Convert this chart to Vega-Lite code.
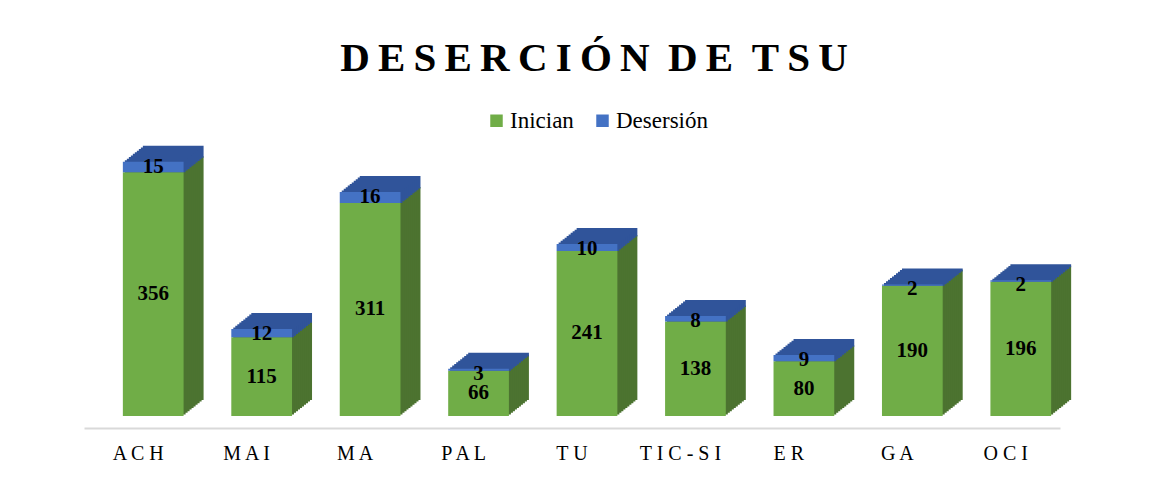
{
  "$schema": "https://vega.github.io/schema/vega-lite/v6.json",
  "autosize": "none",
  "width": 976,
  "height": 274,
  "padding": {"left": 84, "top": 142, "right": 111, "bottom": 69},
  "background": "white",
  "config": {
    "view": {"stroke": null},
    "legend": {
      "labelFont": "Liberation Serif",
      "labelFontSize": 23,
      "labelColor": "#000000",
      "symbolType": "square",
      "symbolSize": 156,
      "symbolStrokeWidth": 0,
      "symbolOpacity": 1,
      "padding": 0
    }
  },
  "title": {
    "text": "D\u2009E\u2009S\u2009E\u2009R\u2009C\u2009I\u2009Ó\u2009N \u2009D\u2009E \u2009T\u2009S\u2009U",
    "font": "Liberation Serif",
    "fontSize": 41,
    "fontWeight": "bold",
    "color": "#000000",
    "anchor": "middle",
    "frame": "group",
    "baseline": "alphabetic",
    "offset": 39,
    "dy": 42,
    "dx": 22
  },
  "data": {
    "values": [
      {"cat": "ACH", "inician": 356, "desercion": 15, "total": 371},
      {"cat": "MAI", "inician": 115, "desercion": 12, "total": 127},
      {"cat": "MA", "inician": 311, "desercion": 16, "total": 327},
      {"cat": "PAL", "inician": 66, "desercion": 3, "total": 69},
      {"cat": "TU", "inician": 241, "desercion": 10, "total": 251},
      {"cat": "TIC-SI", "inician": 138, "desercion": 8, "total": 146},
      {"cat": "ER", "inician": 80, "desercion": 9, "total": 89},
      {"cat": "GA", "inician": 190, "desercion": 2, "total": 192},
      {"cat": "OCI", "inician": 196, "desercion": 2, "total": 198}
    ]
  },
  "encoding": {
    "x": {
      "field": "cat",
      "type": "nominal",
      "sort": null,
      "scale": {"paddingInner": 0.44, "paddingOuter": 0.22},
      "axis": {
        "title": null,
        "labelAngle": 0,
        "ticks": false,
        "domainColor": "#d9d9d9",
        "domainWidth": 2,
        "offset": 12,
        "labelFont": "Liberation Serif",
        "labelFontSize": 20,
        "labelColor": "#000000",
        "labelPadding": 15,
        "labelExpr": "join(split(datum.label, ''), ' ')"
      }
    }
  },
  "layer": [
    {"mark": {"type": "bar", "color": "#4c7330", "xOffset": 35, "yOffset": -16, "y2Offset": -16},
     "encoding": {"y": {"field": "inician", "type": "quantitative", "scale": {"domain": [0, 400], "nice": false}, "axis": null}, "y2": {"datum": 0}}},
    {"mark": {"type": "bar", "color": "#30549a", "xOffset": 35, "yOffset": -16, "y2Offset": -14.4},
     "encoding": {"y": {"field": "total", "type": "quantitative", "scale": {"domain": [0, 400], "nice": false}, "axis": null}, "y2": {"field": "inician"}}},
    {"mark": {"type": "bar", "color": "#4c7330", "xOffset": 33, "yOffset": -14.4, "y2Offset": -14.4},
     "encoding": {"y": {"field": "inician", "type": "quantitative", "scale": {"domain": [0, 400], "nice": false}, "axis": null}, "y2": {"datum": 0}}},
    {"mark": {"type": "bar", "color": "#30549a", "xOffset": 33, "yOffset": -14.4, "y2Offset": -12.8},
     "encoding": {"y": {"field": "total", "type": "quantitative", "scale": {"domain": [0, 400], "nice": false}, "axis": null}, "y2": {"field": "inician"}}},
    {"mark": {"type": "bar", "color": "#4c7330", "xOffset": 31, "yOffset": -12.8, "y2Offset": -12.8},
     "encoding": {"y": {"field": "inician", "type": "quantitative", "scale": {"domain": [0, 400], "nice": false}, "axis": null}, "y2": {"datum": 0}}},
    {"mark": {"type": "bar", "color": "#30549a", "xOffset": 31, "yOffset": -12.8, "y2Offset": -11.2},
     "encoding": {"y": {"field": "total", "type": "quantitative", "scale": {"domain": [0, 400], "nice": false}, "axis": null}, "y2": {"field": "inician"}}},
    {"mark": {"type": "bar", "color": "#4c7330", "xOffset": 29, "yOffset": -11.2, "y2Offset": -11.2},
     "encoding": {"y": {"field": "inician", "type": "quantitative", "scale": {"domain": [0, 400], "nice": false}, "axis": null}, "y2": {"datum": 0}}},
    {"mark": {"type": "bar", "color": "#30549a", "xOffset": 29, "yOffset": -11.2, "y2Offset": -9.6},
     "encoding": {"y": {"field": "total", "type": "quantitative", "scale": {"domain": [0, 400], "nice": false}, "axis": null}, "y2": {"field": "inician"}}},
    {"mark": {"type": "bar", "color": "#4c7330", "xOffset": 27, "yOffset": -9.6, "y2Offset": -9.6},
     "encoding": {"y": {"field": "inician", "type": "quantitative", "scale": {"domain": [0, 400], "nice": false}, "axis": null}, "y2": {"datum": 0}}},
    {"mark": {"type": "bar", "color": "#30549a", "xOffset": 27, "yOffset": -9.6, "y2Offset": -8},
     "encoding": {"y": {"field": "total", "type": "quantitative", "scale": {"domain": [0, 400], "nice": false}, "axis": null}, "y2": {"field": "inician"}}},
    {"mark": {"type": "bar", "color": "#4c7330", "xOffset": 25, "yOffset": -8, "y2Offset": -8},
     "encoding": {"y": {"field": "inician", "type": "quantitative", "scale": {"domain": [0, 400], "nice": false}, "axis": null}, "y2": {"datum": 0}}},
    {"mark": {"type": "bar", "color": "#30549a", "xOffset": 25, "yOffset": -8, "y2Offset": -6.4},
     "encoding": {"y": {"field": "total", "type": "quantitative", "scale": {"domain": [0, 400], "nice": false}, "axis": null}, "y2": {"field": "inician"}}},
    {"mark": {"type": "bar", "color": "#4c7330", "xOffset": 23, "yOffset": -6.4, "y2Offset": -6.4},
     "encoding": {"y": {"field": "inician", "type": "quantitative", "scale": {"domain": [0, 400], "nice": false}, "axis": null}, "y2": {"datum": 0}}},
    {"mark": {"type": "bar", "color": "#30549a", "xOffset": 23, "yOffset": -6.4, "y2Offset": -4.8},
     "encoding": {"y": {"field": "total", "type": "quantitative", "scale": {"domain": [0, 400], "nice": false}, "axis": null}, "y2": {"field": "inician"}}},
    {"mark": {"type": "bar", "color": "#4c7330", "xOffset": 21, "yOffset": -4.8, "y2Offset": -4.8},
     "encoding": {"y": {"field": "inician", "type": "quantitative", "scale": {"domain": [0, 400], "nice": false}, "axis": null}, "y2": {"datum": 0}}},
    {"mark": {"type": "bar", "color": "#30549a", "xOffset": 21, "yOffset": -4.8, "y2Offset": -3.2},
     "encoding": {"y": {"field": "total", "type": "quantitative", "scale": {"domain": [0, 400], "nice": false}, "axis": null}, "y2": {"field": "inician"}}},
    {"mark": {"type": "bar", "color": "#4c7330", "xOffset": 19, "yOffset": -3.2, "y2Offset": -3.2},
     "encoding": {"y": {"field": "inician", "type": "quantitative", "scale": {"domain": [0, 400], "nice": false}, "axis": null}, "y2": {"datum": 0}}},
    {"mark": {"type": "bar", "color": "#30549a", "xOffset": 19, "yOffset": -3.2, "y2Offset": -1.6},
     "encoding": {"y": {"field": "total", "type": "quantitative", "scale": {"domain": [0, 400], "nice": false}, "axis": null}, "y2": {"field": "inician"}}},
    {"mark": {"type": "bar", "color": "#4c7330", "xOffset": 17, "yOffset": -1.6, "y2Offset": -1.6},
     "encoding": {"y": {"field": "inician", "type": "quantitative", "scale": {"domain": [0, 400], "nice": false}, "axis": null}, "y2": {"datum": 0}}},
    {"mark": {"type": "bar", "color": "#30549a", "xOffset": 17, "yOffset": -1.6, "y2Offset": 0},
     "encoding": {"y": {"field": "total", "type": "quantitative", "scale": {"domain": [0, 400], "nice": false}, "axis": null}, "y2": {"field": "inician"}}},
    {"mark": {"type": "bar", "xOffset": 15, "yOffset": 0, "y2Offset": 0},
     "encoding": {
       "y": {"field": "inician", "type": "quantitative", "scale": {"domain": [0, 400], "nice": false}, "axis": null},
       "y2": {"datum": 0},
       "color": {
         "datum": "Inician",
         "type": "nominal",
         "scale": {"domain": ["Inician", "Desersión"], "range": ["#70ad47", "#4472c4"]},
         "legend": {
           "orient": "none",
           "legendX": 401,
           "legendY": -33,
           "direction": "horizontal",
           "title": null,
           "labelFont": "Liberation Serif",
           "labelFontSize": 23,
           "labelOffset": 2,
           "columnPadding": 17,
           "padding": 0
         }
       }
     }},
    {"mark": {"type": "bar", "xOffset": 15, "yOffset": 0, "y2Offset": 0},
     "encoding": {
       "y": {"field": "total", "type": "quantitative", "scale": {"domain": [0, 400], "nice": false}, "axis": null},
       "y2": {"field": "inician"},
       "color": {"datum": "Desersión", "type": "nominal"}
     }},
    {"mark": {"type": "text", "xOffset": 15, "font": "Liberation Serif", "fontSize": 21, "fontWeight": "bold", "color": "#000000", "baseline": "middle", "align": "center"},
     "encoding": {
       "y": {"field": "inician", "type": "quantitative", "scale": {"domain": [0, 800], "nice": false}, "axis": null},
       "text": {"field": "inician", "type": "quantitative"}
     }},
    {"mark": {"type": "text", "xOffset": 15, "dy": 5, "font": "Liberation Serif", "fontSize": 21, "fontWeight": "bold", "color": "#000000", "baseline": "middle", "align": "center"},
     "encoding": {
       "y": {"field": "total", "type": "quantitative", "scale": {"domain": [0, 400], "nice": false}, "axis": null},
       "text": {"field": "desercion", "type": "quantitative"}
     }}
  ],
  "resolve": {"scale": {"y": "independent"}}
}
